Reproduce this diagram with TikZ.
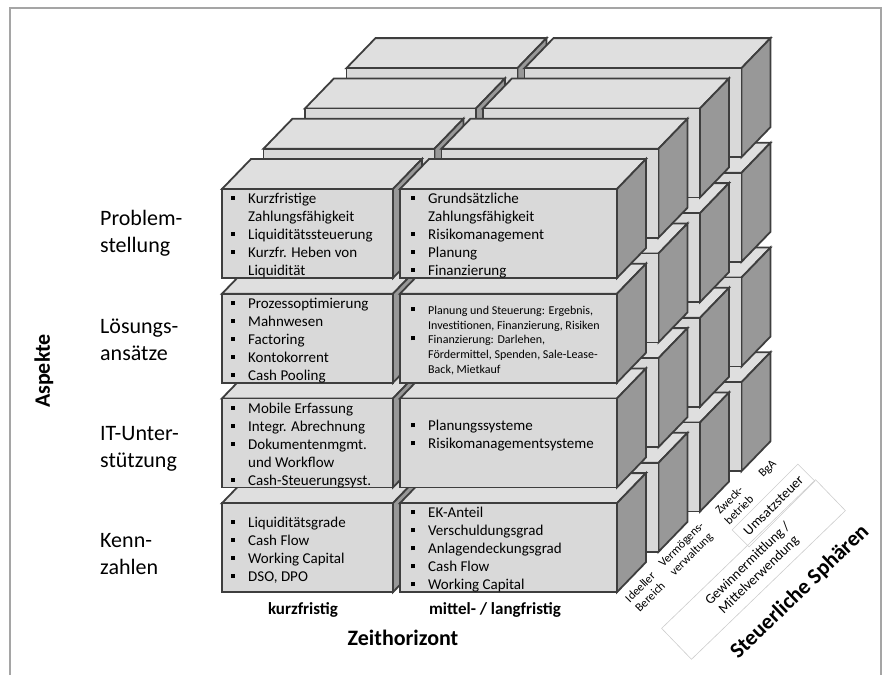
\documentclass[tikz,border=0pt]{standalone}
\usepackage{fontspec}
\setmainfont{Carlito}
\definecolor{frontgray}{RGB}{217,217,217}
\definecolor{topgray}{RGB}{223,223,223}
\definecolor{sidegray}{RGB}{152,152,152}
\definecolor{edgegray}{RGB}{62,62,62}
\definecolor{framegray}{RGB}{165,165,165}
\definecolor{rahmengray}{RGB}{205,205,205}

\newcommand{\bul}{\makebox[17pt][l]{\rule[3.5pt]{4.2pt}{4.2pt}}}
\newcommand{\ein}{\hspace*{17pt}}
% one box: x, y (top left of front face), width, height
\newcommand{\quader}[4]{%
  \filldraw[kante, fill=topgray] (#1,#2) -- ++(29,-30) -- ++(#3,0) -- ++(-29,30) -- cycle;
  \filldraw[kante, fill=sidegray] ({#1+#3},#2) -- ++(29,-30) -- ++(0,#4) -- ++(-29,30) -- cycle;
  \filldraw[kante, fill=frontgray] (#1,#2) rectangle ++(#3,#4);
}

\begin{document}
\begin{tikzpicture}[x=1pt,y=-1pt,
  kante/.style={draw=edgegray, line width=1.8pt, line join=miter},
  liste/.style={anchor=west, align=left, inner sep=0pt, font=\fontsize{15}{18}\selectfont},
  aspekt/.style={anchor=west, align=left, inner sep=0pt, font=\fontsize{22}{27}\selectfont},
  achse/.style={inner sep=0pt, font=\bfseries\fontsize{22}{26}\selectfont},
  spalte/.style={inner sep=0pt, font=\bfseries\fontsize{17}{20}\selectfont},
  sphaere/.style={rotate=45, align=center, inner sep=0pt, font=\fontsize{12}{14}\selectfont},
  rahmen/.style={draw=rahmengray, line width=0.6pt, rotate=44, align=center, inner sep=0pt, font=\fontsize{14}{16}\selectfont}]
  \useasboundingbox (0,0) rectangle (888,675);
  \draw[framegray, line width=1.2pt] (10,675) -- (10,8) -- (881,8) -- (881,675);

  % the cube, back layer first
  \foreach \k in {3,2,1,0} {
    \foreach \r in {3,2,1,0} {
      \pgfmathsetmacro{\ya}{189+104.7*\r-40.3*\k}
      \pgfmathsetmacro{\xa}{222+41.5*\k}
      \pgfmathsetmacro{\xb}{400+41.5*\k}
      \quader{\xa}{\ya}{171}{89}
      \quader{\xb}{\ya}{217}{89}
    }
  }

  % front layer texts
  \node[liste] (k11) at (231,235.5) {\bul Kurzfristige\\\ein Zahlungsfähigkeit\\\bul Liquiditätssteuerung\\\bul Kurzfr. Heben von\\\ein Liquidität};
  \node[liste] (k12) at (411,235.5) {\bul Grundsätzliche\\\ein Zahlungsfähigkeit\\\bul Risikomanagement\\\bul Planung\\\bul Finanzierung};
  \node[liste] (k21) at (231,340.5) {\bul Prozessoptimierung\\\bul Mahnwesen\\\bul Factoring\\\bul Kontokorrent\\\bul Cash Pooling};
  \node[liste, font=\fontsize{12}{14.6}\selectfont] (k22) at (411,340.5) {\bul Planung und Steuerung: Ergebnis,\\\ein Investitionen, Finanzierung, Risiken\\\bul Finanzierung: Darlehen,\\\ein Fördermittel, Spenden, Sale-Lease-\\\ein Back, Mietkauf};
  \node[liste] (k31) at (231,445.5) {\bul Mobile Erfassung\\\bul Integr. Abrechnung\\\bul Dokumentenmgmt.\\\ein und Workflow\\\bul Cash-Steuerungsyst.};
  \node[liste] (k32) at (411,436) {\bul Planungssysteme\\\bul Risikomanagementsysteme};
  \node[liste] (k41) at (231,550) {\bul Liquiditätsgrade\\\bul Cash Flow\\\bul Working Capital\\\bul DSO, DPO};
  \node[liste] (k42) at (411,550) {\bul EK-Anteil\\\bul Verschuldungsgrad\\\bul Anlagendeckungsgrad\\\bul Cash Flow\\\bul Working Capital};

  % aspects
  \node[aspekt] (a1) at (100,233) {Problem-\\stellung};
  \node[aspekt] (a2) at (100,340) {Lösungs-\\ansätze};
  \node[aspekt] (a3) at (100,449) {IT-Unter-\\stützung};
  \node[aspekt] (a4) at (100,554) {Kenn-\\zahlen};
  \node[achse, rotate=90] (aspekte) at (44,371) {Aspekte};

  % time axis
  \node[spalte] (kurz) at (303,610) {kurzfristig};
  \node[spalte] (lang) at (495,610) {mittel- / langfristig};
  \node[achse] (zeit) at (403,638) {Zeithorizont};

  % tax spheres
  \node[sphaere] (ideell) at (645,592) {Ideeller\\Bereich};
  \node[sphaere] (verm) at (687,550) {Vermögens-\\verwaltung};
  \node[sphaere] (zweck) at (734,505) {Zweck-\\betrieb};
  \node[sphaere] (bga) at (768,469) {BgA};
  \node[rahmen, rotate=1, minimum width=93, minimum height=24] (ust) at (773.5,505.5) {Umsatzsteuer};
  \node[rahmen, minimum width=214, minimum height=43] (gewinn) at (753.5,569.5) {Gewinnermittlung /\\Mittelverwendung};
  \node[achse, rotate=44] (sphaeren) at (800,592) {Steuerliche Sphären};
\end{tikzpicture}
\end{document}
